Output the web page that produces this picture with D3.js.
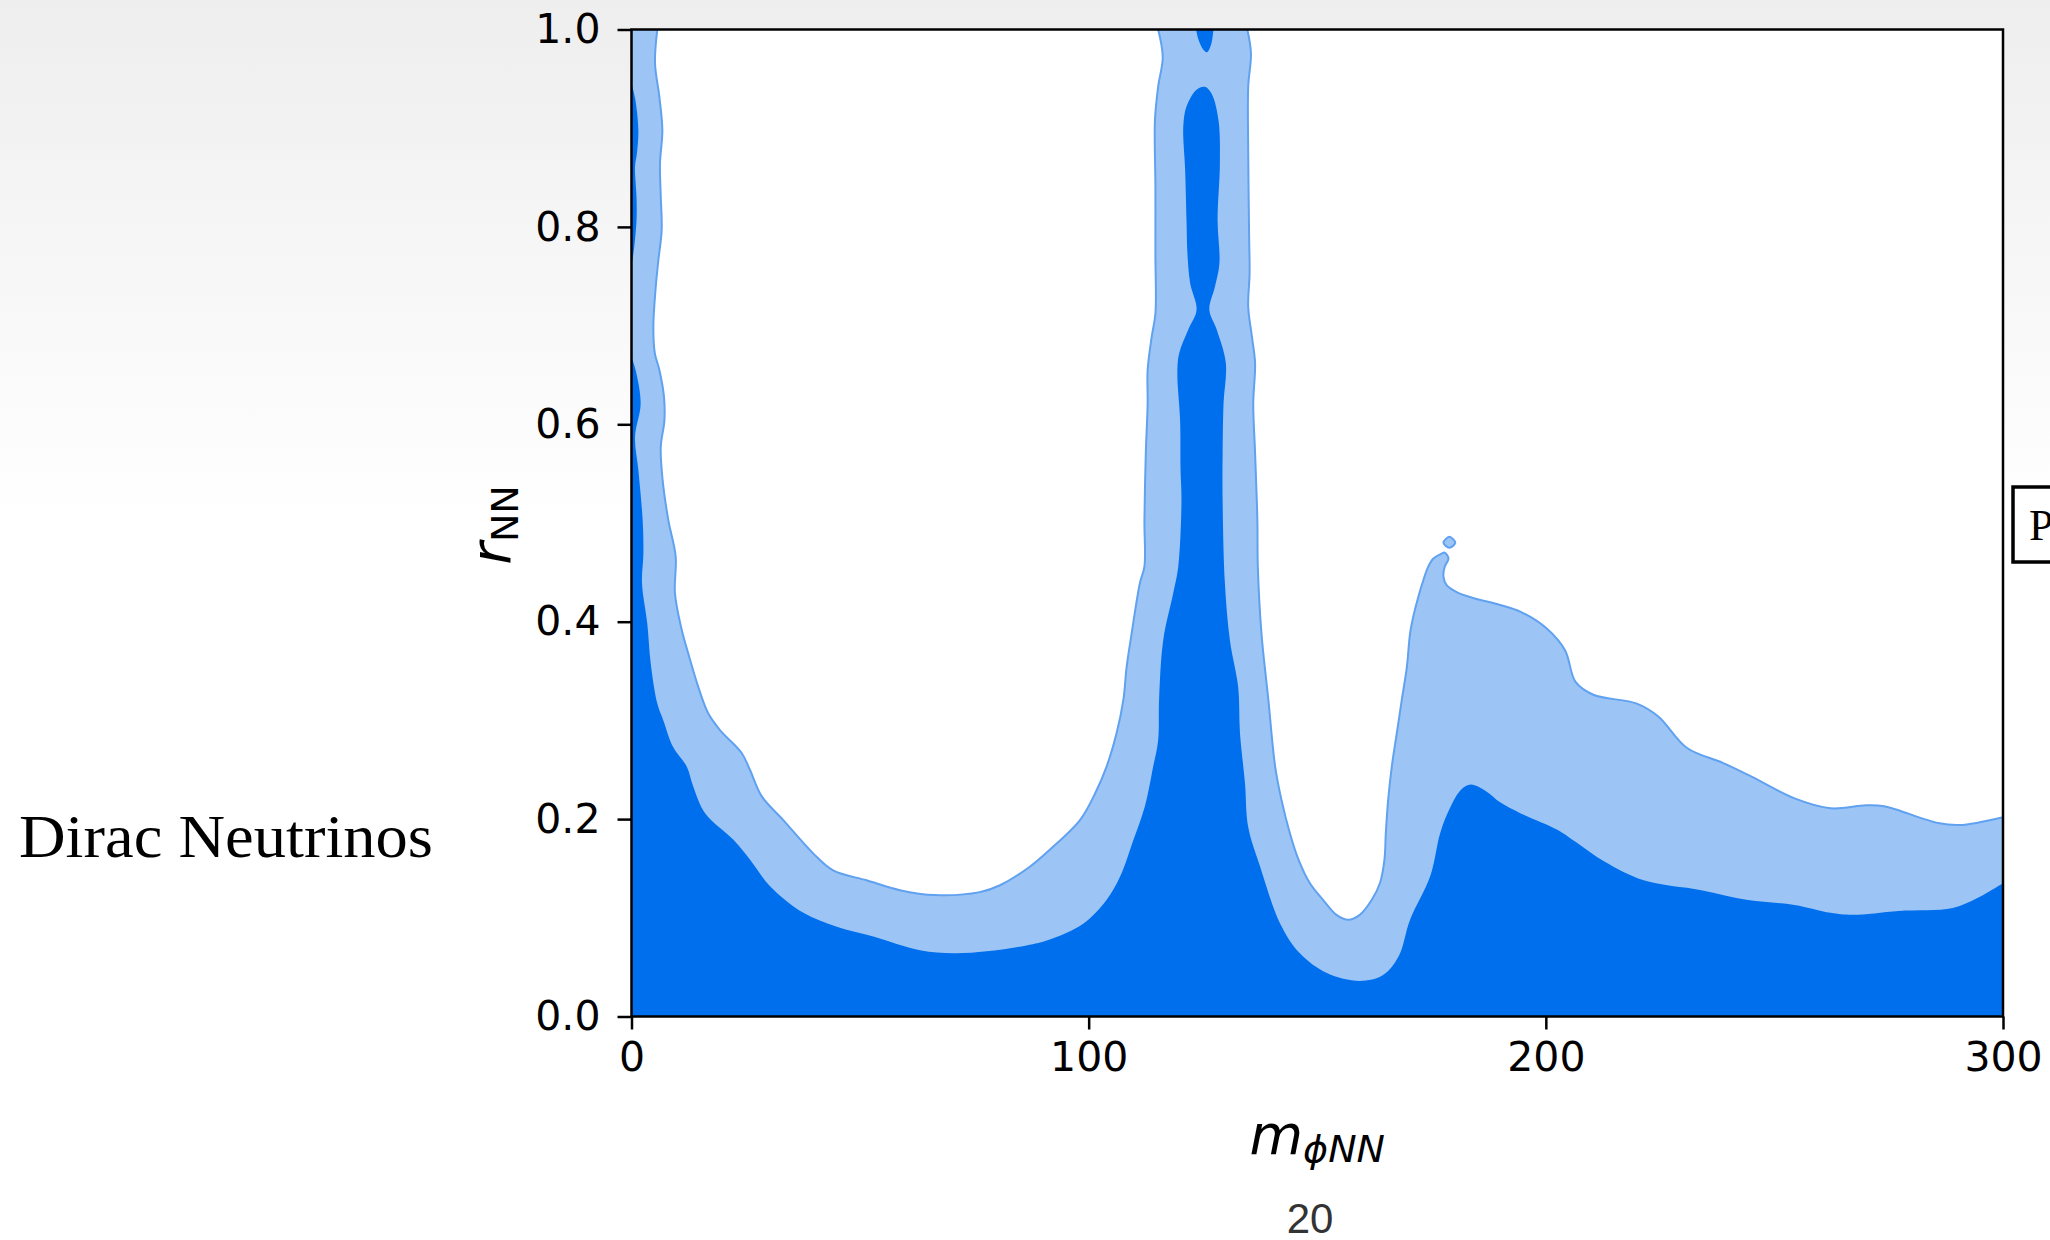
<!DOCTYPE html>
<html>
<head>
<meta charset="utf-8">
<script src="https://cdn.jsdelivr.net/npm/d3@7"></script>
<style>
  body { margin: 0; background: #fff; }
  svg { display: block; }
</style>
</head>
<body>
<div id="chart"></div>
<script>
///////////////////////////////////////////////////////////////////////////
////////////////////////////// The data ///////////////////////////////////
///////////////////////////////////////////////////////////////////////////

//Outer (light) contour: left strip down, across the U, up the left side of the central strip
var lightLeft = [
  [5.65,1.0],[5.14,0.966],[6.09,0.932],[6.75,0.898],[6.23,0.864],[6.4,0.831],[6.6,0.797],
  [5.87,0.766],[5.3,0.739],[4.78,0.699],[5.1,0.672],[6.1,0.655],[7.1,0.628],[7.2,0.604],
  [6.4,0.577],[6.8,0.544],[8.05,0.503],[9.66,0.466],[9.5,0.429],[10.97,0.392],[12.4,0.368],
  [14.6,0.334],[16.8,0.307],[19.4,0.290],[24.1,0.267],[25.9,0.250],[28.5,0.223],[33.2,0.199],
  [39.8,0.165],[44.1,0.148],[51.4,0.138],[58.7,0.128],[66.4,0.123],[76.2,0.126],[80.6,0.133],
  [87.2,0.152],[91.5,0.169],[98.1,0.199],[101.4,0.226],[103.9,0.253],[106.1,0.287],[107.6,0.321],
  [108.3,0.354],[109.4,0.388],[111.2,0.439],[112.2,0.456],[112.2,0.503],[112.5,0.571],[112.9,0.621],
  [112.9,0.655],[113.8,0.689],[114.6,0.712],[114.6,0.773],[114.6,0.841],[114.5,0.908],
  [115.2,0.942],[116.2,0.972],[115.2,1.0]
];

//Outer (light) contour: right side of the central strip, the valley, the hook and the tail
var lightRight = [
  [134.7,1.0],[135.5,0.976],[134.9,0.942],[134.9,0.875],[135.1,0.790],[135.2,0.753],[134.9,0.719],
  [135.7,0.689],[136.4,0.662],[136.0,0.621],[136.4,0.571],[136.9,0.503],[137.0,0.456],[137.8,0.388],
  [139.3,0.321],[140.8,0.253],[142.2,0.219],[144.0,0.186],[145.9,0.159],[148.4,0.135],[151.3,0.118],
  [154.2,0.103],[156.8,0.098],[159.3,0.103],[161.9,0.118],[163.7,0.135],[164.7,0.159],[165.0,0.186],
  [165.5,0.219],[166.3,0.253],[167.4,0.287],[168.5,0.321],[169.6,0.354],[170.3,0.388],[171.0,0.405],
  [172.1,0.425],[173.2,0.442],[174.3,0.456],[175.4,0.464],[177.2,0.469],[177.9,0.470],[178.7,0.464],
  [177.9,0.456],[177.6,0.446],[178.3,0.437],[180.5,0.430],[184.1,0.424],[190.0,0.417],[194.5,0.410],
  [200.2,0.393],[204.2,0.371],[206.5,0.339],[210.4,0.326],[219.9,0.317],[224.6,0.304],[230.9,0.272],
  [238.7,0.257],[245.0,0.243],[254.4,0.221],[262.3,0.211],[270.1,0.214],[274.0,0.213],[285.8,0.196],
  [290.5,0.194],[300,0.202]
];

//Small isolated outer contour near the hook
var lightIsland = [[178.9,0.486],[180.2,0.480],[178.9,0.475],[177.6,0.480]];

//Inner (dark) region, from the left axis to the right axis
var darkMain = [
  [0,0.668],[0.9,0.655],[2.0,0.621],[0.77,0.587],[1.5,0.554],[2.44,0.503],[2.6,0.469],[2.3,0.439],
  [3.46,0.398],[4.2,0.358],[5.65,0.317],[6.96,0.300],[9.1,0.273],[12.1,0.253],[13.5,0.233],
  [16.1,0.206],[22.3,0.179],[25.9,0.159],[30.3,0.132],[37.6,0.105],[44.9,0.091],[52.9,0.081],
  [63.1,0.067],[70.4,0.064],[77.7,0.066],[86.4,0.072],[91.5,0.078],[98.8,0.094],[103.9,0.118],
  [106.9,0.142],[109.8,0.179],[112.3,0.213],[114.1,0.253],[115.2,0.280],[115.4,0.321],[116.3,0.381],
  [118.5,0.429],[119.6,0.456],[120.3,0.523],[120.1,0.554],[120.0,0.604],[119.4,0.652],[119.8,0.672],
  [121.8,0.696],[123.6,0.716],[122.2,0.743],[121.6,0.773],[121.4,0.807],[121.1,0.858],[120.7,0.902],
  [121.4,0.922],[123.6,0.939],[125.4,0.942],[126.9,0.935],[128.4,0.908],[128.7,0.864],[128.2,0.807],
  [128.6,0.763],[127.6,0.739],[126.4,0.716],[128.0,0.696],[130.0,0.662],[129.5,0.621],[129.3,0.571],
  [129.3,0.523],[129.8,0.439],[130.9,0.381],[132.7,0.334],[133.1,0.287],[134.2,0.236],[134.9,0.192],
  [137.5,0.152],[141.9,0.094],[146.2,0.064],[152.1,0.044],[159.3,0.036],[164.4,0.042],[167.8,0.061],
  [170.3,0.098],[174.7,0.142],[176.9,0.186],[179.0,0.211],[181.5,0.230],[183.6,0.235],[187.0,0.228],
  [190.0,0.217],[194.4,0.206],[202.6,0.189],[206.5,0.177],[212.8,0.157],[221.4,0.138],[234.0,0.128],
  [244.2,0.118],[254.4,0.113],[262.3,0.105],[267.0,0.103],[277.2,0.107],[289.0,0.110],[294.4,0.120],
  [300,0.135]
];

//Thin dark sliver on the left axis
var darkSliver = [
  [0,0.945],[0.8,0.93],[1.5,0.898],[1.2,0.875],[0.77,0.861],[1.1,0.83],[1.1,0.807],[0.6,0.78],[0,0.760]
];

//Dark cap on top of the central strip
var darkCap = [[123.5,1.0],[124.0,0.99],[125.0,0.98],[125.9,0.977],[126.8,0.985],[127.3,1.0]];

var xTicks = [0, 100, 200, 300];
var yTicks = [0, 0.2, 0.4, 0.6, 0.8, 1.0];

var colorDark = "#006fed",
    colorLight = "#9cc5f6",
    colorEdge = "#60a1f0";

///////////////////////////////////////////////////////////////////////////
//////////////////////////// Set up the SVG ///////////////////////////////
///////////////////////////////////////////////////////////////////////////
var margin = { top: 29.5, right: 47, bottom: 223.5, left: 631.5 };
var width = 2050 - margin.left - margin.right;
var height = 1240 - margin.top - margin.bottom;

var svgRoot = d3.select("#chart").append("svg")
  .attr("width", 2050)
  .attr("height", 1240);

var defs = svgRoot.append("defs");
var grad = defs.append("linearGradient")
  .attr("id", "bgGrad")
  .attr("x1", 0).attr("y1", 0).attr("x2", 0).attr("y2", 1);
grad.append("stop").attr("offset", "0%").attr("stop-color", "#eeeeee");
grad.append("stop").attr("offset", "42%").attr("stop-color", "#ffffff");

defs.append("clipPath").attr("id", "plotClip")
  .append("rect").attr("width", width).attr("height", height);

svgRoot.append("rect")
  .attr("width", 2050).attr("height", 1240)
  .style("fill", "url(#bgGrad)");

var svg = svgRoot.append("g")
  .attr("transform", "translate(" + margin.left + "," + margin.top + ")");

///////////////////////////////////////////////////////////////////////////
////////////////////////// Create the scales //////////////////////////////
///////////////////////////////////////////////////////////////////////////
var x = d3.scaleLinear().domain([0, 300]).range([0, width]);
var y = d3.scaleLinear().domain([0, 1]).range([height, 0]);

var line = d3.line()
  .x(function(d) { return x(d[0]); })
  .y(function(d) { return y(d[1]); })
  .curve(d3.curveCatmullRom.alpha(0.5));

var closedLine = d3.line()
  .x(function(d) { return x(d[0]); })
  .y(function(d) { return y(d[1]); })
  .curve(d3.curveCatmullRomClosed.alpha(0.5));

function seg(pts) { return line(pts).replace(/^M/, "L"); }
function pt(m, r) { return x(m) + "," + y(r); }

///////////////////////////////////////////////////////////////////////////
/////////////////////////// Draw the contours /////////////////////////////
///////////////////////////////////////////////////////////////////////////
var plot = svg.append("g").attr("clip-path", "url(#plotClip)");

plot.append("rect")
  .attr("width", width).attr("height", height)
  .style("fill", "#ffffff");

//outer region
plot.append("path")
  .attr("d", "M" + pt(0, 0) + "L" + pt(0, 1) + seg(lightLeft) + seg(lightRight) + "L" + pt(300, 0) + "Z")
  .style("fill", colorLight);

plot.append("path")
  .attr("d", closedLine(lightIsland))
  .style("fill", colorLight);

//inner region
plot.append("path")
  .attr("d", "M" + pt(0, 0) + seg(darkMain) + "L" + pt(300, 0) + "Z")
  .style("fill", colorDark);

plot.append("path")
  .attr("d", line(darkSliver) + "Z")
  .style("fill", colorDark);

plot.append("path")
  .attr("d", line(darkCap) + "Z")
  .style("fill", colorDark);

//outer contour lines
[lightLeft, lightRight].forEach(function(pts) {
  plot.append("path")
    .attr("d", line(pts))
    .style("fill", "none")
    .style("stroke", colorEdge)
    .style("stroke-width", 2);
});
plot.append("path")
  .attr("d", closedLine(lightIsland))
  .style("fill", "none")
  .style("stroke", colorEdge)
  .style("stroke-width", 2);

///////////////////////////////////////////////////////////////////////////
////////////////////////////// Axes ///////////////////////////////////////
///////////////////////////////////////////////////////////////////////////
var xAxis = svg.append("g")
  .attr("transform", "translate(0," + height + ")")
  .call(d3.axisBottom(x).tickValues(xTicks).tickSize(13).tickPadding(12).tickFormat(d3.format("d")));

var yAxis = svg.append("g")
  .call(d3.axisLeft(y).tickValues(yTicks).tickSize(14).tickPadding(17).tickFormat(d3.format(".1f")));

[xAxis, yAxis].forEach(function(ax) {
  ax.select(".domain").remove();
  ax.selectAll("line").style("stroke", "#000").style("stroke-width", 2.5);
  ax.selectAll("text")
    .style("font-family", "'DejaVu Sans', sans-serif")
    .style("font-size", "41px")
    .style("fill", "#000");
});

//frame
svg.append("rect")
  .attr("width", width).attr("height", height)
  .style("fill", "none")
  .style("stroke", "#000")
  .style("stroke-width", 2.5);

//axis titles
var xLabel = svg.append("text")
  .attr("x", width / 2)
  .attr("y", 1154 - margin.top)
  .attr("text-anchor", "middle")
  .style("font-family", "'DejaVu Sans', sans-serif")
  .style("font-style", "italic");
xLabel.append("tspan").style("font-size", "55px").text("m");
xLabel.append("tspan").style("font-size", "38px").attr("dy", 8).text("ϕNN");

var yLabel = svg.append("text")
  .attr("transform", "translate(" + (510 - margin.left) + "," + (525 - margin.top) + ") rotate(-90)")
  .attr("text-anchor", "middle")
  .style("font-family", "'DejaVu Sans', sans-serif");
yLabel.append("tspan").style("font-size", "55px").style("font-style", "italic").text("r");
yLabel.append("tspan").style("font-size", "38px").attr("dy", 8).text("NN");

///////////////////////////////////////////////////////////////////////////
////////////////////////// Slide decorations //////////////////////////////
///////////////////////////////////////////////////////////////////////////
svgRoot.append("text")
  .attr("x", 19)
  .attr("y", 857)
  .attr("textLength", 414)
  .attr("lengthAdjust", "spacingAndGlyphs")
  .style("font-family", "'Liberation Serif', serif")
  .style("font-size", "61px")
  .style("fill", "#000")
  .text("Dirac Neutrinos");

svgRoot.append("rect")
  .attr("x", 2013).attr("y", 487)
  .attr("width", 60).attr("height", 75)
  .style("fill", "#fff")
  .style("stroke", "#000")
  .style("stroke-width", 3.5);

svgRoot.append("text")
  .attr("x", 2029)
  .attr("y", 540)
  .style("font-family", "'Liberation Serif', serif")
  .style("font-size", "44px")
  .style("fill", "#000")
  .text("P");

svgRoot.append("text")
  .attr("x", 1310)
  .attr("y", 1233)
  .attr("text-anchor", "middle")
  .style("font-family", "'Liberation Sans', sans-serif")
  .style("font-weight", 300)
  .style("font-size", "42px")
  .style("fill", "#333")
  .text("20");
</script>
</body>
</html>
